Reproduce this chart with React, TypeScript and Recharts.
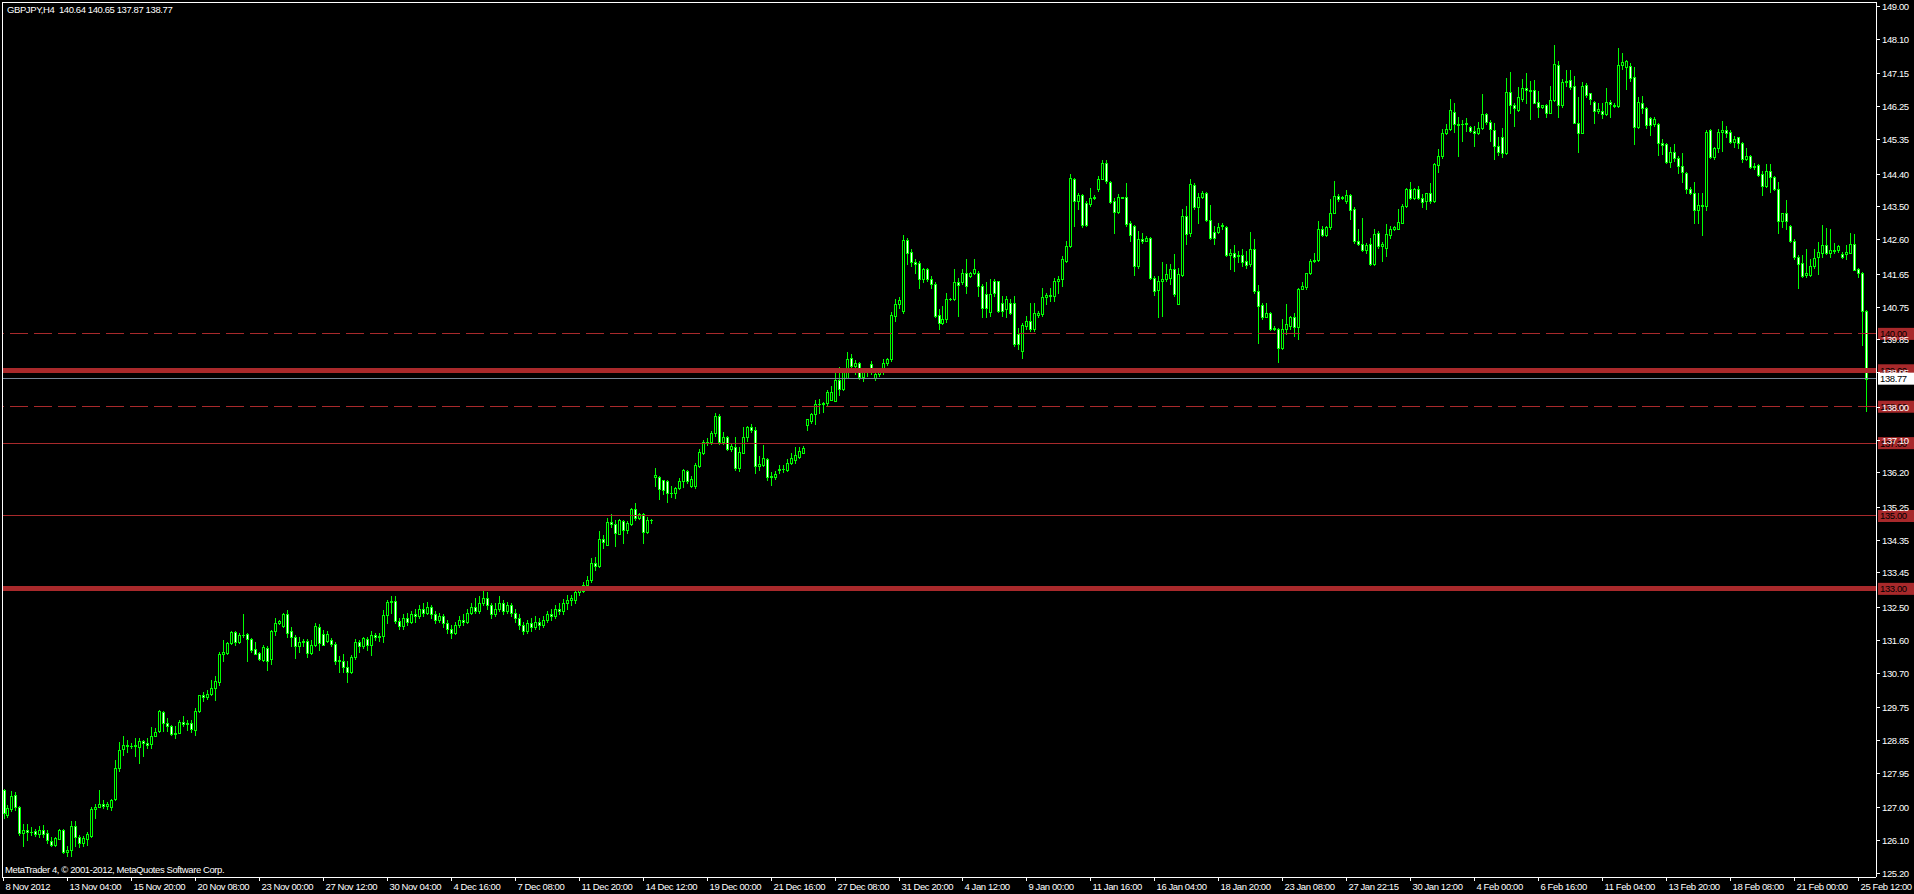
import React from 'react';
import { ComposedChart, Bar, XAxis, YAxis, ReferenceLine } from 'recharts';

type Ohlc = [number, number, number, number]; // open, high, low, close

const W = 1914;
const H = 894;
const LIME = '#00ff00';
const RED = '#a8292b';
const FONT = "'Liberation Sans', Arial, sans-serif";
const FS = 9.5;
const LS = -0.4;

// GBPJPY H4, one bar per 4 hours, split by month
const nov: Ohlc[] = [
  [127.48, 127.5, 126.7, 126.84], [126.8, 127.07, 126.75, 126.98], [126.97, 127.46, 126.89, 127.3], [127.33, 127.41, 126.92, 127.01],
  [127.01, 127.05, 126.25, 126.3], [126.3, 126.55, 125.93, 126.39], [126.39, 126.55, 126.11, 126.33], [126.33, 126.45, 126.25, 126.33],
  [126.36, 126.4, 126.22, 126.26], [126.26, 126.5, 126.2, 126.39], [126.39, 126.53, 126.2, 126.26], [126.3, 126.39, 126.02, 126.1],
  [126.07, 126.18, 125.93, 125.98], [125.98, 126.18, 125.95, 126.16], [126.13, 126.41, 126.13, 126.37], [126.37, 126.41, 125.76, 125.79],
  [125.79, 125.93, 125.67, 125.84], [125.82, 126.64, 125.67, 126.48], [126.48, 126.62, 125.95, 126.2], [126.2, 126.25, 125.91, 126.02],
  [126.02, 126.22, 125.93, 126.16], [126.13, 126.32, 125.97, 126.28], [126.22, 127.02, 126.2, 126.95], [126.95, 127.1, 126.7, 127.01],
  [127.01, 127.48, 127.0, 127.09], [127.09, 127.21, 126.98, 127.05], [127.05, 127.16, 126.95, 127.1], [127.01, 127.23, 126.92, 127.21],
  [127.23, 128.31, 127.21, 128.08], [128.08, 128.79, 128.0, 128.58], [128.6, 128.97, 128.45, 128.71], [128.71, 128.86, 128.51, 128.69],
  [128.69, 128.76, 128.63, 128.69], [128.69, 128.9, 128.4, 128.7], [128.67, 128.9, 128.23, 128.82], [128.82, 128.84, 128.4, 128.76],
  [128.76, 128.9, 128.63, 128.72], [128.75, 129.22, 128.63, 128.97], [128.97, 129.18, 128.95, 129.08], [129.1, 129.67, 129.08, 129.64],
  [129.61, 129.64, 129.09, 129.31], [129.31, 129.45, 129.09, 129.23], [129.23, 129.27, 128.99, 129.01], [129.01, 129.24, 128.9, 129.04],
  [129.04, 129.39, 129.04, 129.34], [129.34, 129.52, 129.24, 129.29], [129.29, 129.41, 129.13, 129.32], [129.32, 129.41, 129.06, 129.15],
  [129.12, 129.72, 129.0, 129.64], [129.64, 130.09, 129.62, 130.08], [130.08, 130.17, 129.91, 130.04], [130.04, 130.21, 129.97, 130.12],
  [130.11, 130.5, 130.09, 130.28], [130.27, 130.6, 129.96, 130.48], [130.44, 131.28, 130.37, 131.22], [131.22, 131.6, 131.03, 131.27],
  [131.24, 131.55, 131.21, 131.51], [131.51, 131.85, 131.49, 131.81], [131.81, 131.83, 131.46, 131.53], [131.53, 131.79, 131.51, 131.74],
  [131.74, 132.32, 131.69, 131.74], [131.77, 131.8, 131.03, 131.62], [131.62, 131.65, 131.28, 131.31], [131.35, 131.53, 131.22, 131.22],
  [131.24, 131.28, 131.05, 131.08], [131.05, 131.46, 131.01, 131.4], [131.37, 131.42, 130.76, 131.03], [131.07, 131.88, 130.94, 131.85],
  [131.83, 132.2, 131.74, 132.06], [132.06, 132.15, 132.04, 132.11], [131.97, 132.33, 131.95, 132.32], [132.32, 132.43, 131.69, 131.8],
  [131.83, 131.95, 131.42, 131.68], [131.69, 131.74, 131.09, 131.42], [131.42, 131.69, 131.28, 131.53], [131.53, 131.62, 131.42, 131.58],
  [131.58, 131.62, 131.14, 131.24], [131.24, 131.6, 131.22, 131.46], [131.46, 132.06, 131.42, 131.97], [131.95, 132.04, 131.33, 131.51],
  [131.77, 131.86, 131.45, 131.47], [131.58, 131.85, 131.53, 131.76], [131.6, 131.65, 131.42, 131.49], [131.48, 131.53, 130.94, 131.01],
  [131.05, 131.16, 130.71, 131.03], [131.01, 131.22, 130.71, 130.85], [130.85, 131.01, 130.43, 130.71], [130.71, 131.19, 130.69, 131.14],
  [131.14, 131.62, 131.07, 131.54], [131.54, 131.6, 131.28, 131.42], [131.42, 131.67, 131.37, 131.65], [131.62, 131.67, 131.33, 131.46],
  [131.45, 131.83, 131.19, 131.74], [131.74, 131.8, 131.6, 131.68], [131.68, 131.78, 131.58, 131.71], [131.71, 132.43, 131.53, 132.29],
  [132.29, 132.7, 132.06, 132.65], [132.65, 132.8, 132.33, 132.66], [132.66, 132.8, 132.05, 132.13], [132.13, 132.2, 131.9, 131.97],
  [131.97, 132.3, 131.9, 132.2], [132.2, 132.35, 132.0, 132.1], [132.1, 132.4, 132.05, 132.3], [132.3, 132.45, 132.1, 132.25],
  [132.25, 132.55, 132.2, 132.45], [132.45, 132.6, 132.25, 132.35], [132.35, 132.65, 132.3, 132.5], [132.5, 132.55, 132.2, 132.3],
  [132.3, 132.4, 132.05, 132.15], [132.15, 132.35, 132.1, 132.25], [132.25, 132.3, 131.95, 132.05], [132.05, 132.15, 131.8, 131.9],
  [131.9, 132.0, 131.65, 131.8], [131.8, 132.1, 131.75, 132.0], [132.0, 132.25, 131.95, 132.15], [132.15, 132.3, 132.0, 132.1],
  [132.1, 132.45, 132.05, 132.35],
];

const dec: Ohlc[] = [
  [132.35, 132.6, 132.3, 132.5], [132.5, 132.75, 132.35, 132.4], [132.4, 132.8, 132.35, 132.6], [132.6, 132.95, 132.55, 132.75],
  [132.75, 132.9, 132.45, 132.55], [132.55, 132.6, 132.2, 132.3], [132.3, 132.6, 132.25, 132.45], [132.45, 132.8, 132.4, 132.6],
  [132.6, 132.7, 132.3, 132.4], [132.4, 132.65, 132.35, 132.55], [132.55, 132.6, 132.25, 132.35], [132.35, 132.45, 132.1, 132.2],
  [132.2, 132.3, 131.9, 132.0], [132.0, 132.1, 131.75, 131.85], [131.85, 132.15, 131.8, 132.05], [132.05, 132.2, 131.85, 131.95],
  [131.95, 132.25, 131.9, 132.1], [132.1, 132.2, 131.9, 132.0], [132.0, 132.25, 131.95, 132.15], [132.15, 132.4, 132.1, 132.3],
  [132.3, 132.45, 132.15, 132.25], [132.25, 132.55, 132.2, 132.45], [132.45, 132.6, 132.3, 132.4], [132.4, 132.71, 132.3, 132.6],
  [132.6, 132.83, 132.45, 132.7], [132.7, 132.83, 132.55, 132.75], [132.7, 133.04, 132.6, 132.9], [132.9, 133.08, 132.83, 133.0],
  [132.95, 133.18, 132.92, 133.11], [133.11, 133.34, 133.04, 133.24], [133.23, 133.84, 133.2, 133.7], [133.7, 133.88, 133.52, 133.62],
  [133.63, 134.59, 133.61, 134.36], [134.36, 134.48, 134.12, 134.28], [134.21, 134.94, 134.2, 134.83], [134.83, 135.05, 134.71, 134.77],
  [134.77, 134.89, 134.18, 134.53], [134.5, 134.91, 134.5, 134.89], [134.86, 134.89, 134.25, 134.62], [134.62, 134.86, 134.53, 134.8],
  [134.78, 135.23, 134.75, 135.18], [135.18, 135.35, 134.89, 134.94], [134.94, 135.08, 134.91, 135.05], [135.05, 135.08, 134.25, 134.55],
  [134.55, 134.96, 134.53, 134.89], [134.89, 134.93, 134.8, 134.9], [136.08, 136.31, 135.81, 136.13], [136.06, 136.1, 135.48, 135.73],
  [135.99, 136.0, 135.6, 135.71], [135.97, 135.99, 135.39, 135.64], [135.64, 135.83, 135.53, 135.64], [135.62, 135.8, 135.5, 135.76],
  [135.76, 136.03, 135.73, 135.96], [135.97, 136.3, 135.8, 136.26], [136.23, 136.26, 135.9, 135.97], [135.81, 136.1, 135.79, 136.01],
  [135.81, 136.46, 135.78, 136.4], [136.37, 136.85, 136.35, 136.77], [136.72, 137.1, 136.7, 137.04], [137.04, 137.15, 136.95, 137.04],
  [137.04, 137.33, 136.99, 137.27], [137.27, 137.82, 137.2, 137.75], [137.75, 137.8, 136.97, 137.04], [137.04, 137.3, 136.98, 137.16],
  [137.16, 137.2, 136.8, 136.83], [136.83, 136.99, 136.78, 136.93], [136.9, 137.18, 136.26, 136.31], [136.31, 136.89, 136.24, 136.77],
  [136.74, 137.44, 136.72, 137.16], [137.18, 137.47, 137.06, 137.43], [137.43, 137.52, 137.3, 137.36], [137.36, 137.43, 136.19, 136.36],
  [136.36, 136.65, 136.25, 136.42], [136.4, 136.95, 136.36, 136.58], [136.56, 136.6, 135.99, 136.06], [136.06, 136.2, 135.84, 136.09],
  [136.06, 136.23, 136.01, 136.15], [136.25, 136.41, 136.19, 136.28], [136.28, 136.41, 136.21, 136.28], [136.26, 136.56, 136.23, 136.45],
  [136.45, 136.73, 136.42, 136.58], [136.55, 136.9, 136.45, 136.68], [136.63, 136.9, 136.6, 136.79], [136.74, 136.93, 136.73, 136.86],
  [137.5, 137.66, 137.36, 137.65], [137.62, 137.84, 137.55, 137.8], [137.79, 138.19, 137.53, 138.08], [138.08, 138.21, 137.82, 138.08],
  [138.08, 138.13, 137.85, 138.11], [138.09, 138.46, 138.02, 138.4], [138.18, 138.56, 138.18, 138.4], [138.17, 139.01, 138.17, 138.73],
  [138.73, 139.1, 138.33, 138.5], [138.5, 139.05, 138.45, 138.95], [138.8, 139.5, 138.78, 139.3], [139.35, 139.44, 139.05, 139.12],
  [139.12, 139.28, 138.9, 139.2], [139.2, 139.24, 138.75, 138.82], [138.82, 139.05, 138.7, 139.0], [139.0, 139.05, 138.85, 138.95],
  [139.17, 139.26, 138.9, 138.96], [138.79, 139.0, 138.72, 138.91], [138.91, 139.05, 138.85, 138.96], [138.95, 139.3, 138.9, 139.21],
  [139.21, 139.35, 139.15, 139.3], [139.3, 140.6, 139.25, 140.51], [140.49, 140.95, 140.36, 140.81], [140.81, 141.0, 140.72, 140.93],
];

const jan: Ohlc[] = [
  [140.63, 142.71, 140.58, 142.58], [142.58, 142.64, 141.91, 142.23], [142.25, 142.32, 141.86, 141.96], [141.96, 142.05, 141.68, 141.91],
  [141.94, 142.0, 141.27, 141.5], [141.5, 141.82, 141.41, 141.79], [141.77, 141.8, 141.45, 141.5], [141.5, 141.59, 141.27, 141.36],
  [141.36, 141.41, 140.47, 140.49], [140.51, 140.67, 140.13, 140.31], [140.31, 140.77, 140.26, 140.4], [140.4, 141.13, 140.33, 140.97],
  [140.97, 140.99, 140.93, 140.95], [140.95, 141.77, 140.93, 141.41], [141.41, 141.54, 140.49, 141.33], [141.41, 141.79, 141.36, 141.68],
  [141.68, 142.05, 141.13, 141.32], [141.59, 141.7, 141.55, 141.66], [141.68, 142.05, 141.64, 141.77], [141.68, 141.73, 141.04, 141.32],
  [141.32, 141.36, 140.45, 140.72], [141.09, 141.41, 140.45, 140.72], [140.6, 141.5, 140.49, 141.09], [141.45, 141.5, 141.04, 141.13],
  [141.45, 141.45, 140.6, 140.63], [140.86, 141.04, 140.49, 140.63], [140.68, 141.04, 140.45, 140.95], [140.86, 140.95, 140.55, 140.58],
  [140.86, 141.04, 139.67, 139.71], [139.99, 140.17, 139.58, 139.71], [139.53, 140.31, 139.35, 140.24], [140.22, 140.49, 140.13, 140.35],
  [140.35, 140.86, 140.08, 140.13], [140.13, 140.86, 140.08, 140.58], [140.51, 140.62, 140.45, 140.58], [140.54, 141.27, 140.49, 141.0],
  [141.0, 141.13, 140.81, 141.07], [141.07, 141.27, 140.9, 141.04], [141.04, 141.52, 140.9, 141.45], [141.45, 141.59, 141.13, 141.5],
  [141.5, 142.14, 141.32, 142.05], [142.0, 142.55, 141.96, 142.41], [142.41, 144.38, 142.39, 144.29], [144.24, 144.29, 142.96, 143.65],
  [143.65, 143.88, 143.42, 143.8], [143.8, 143.83, 142.94, 142.98], [143.58, 143.65, 142.96, 142.98], [143.56, 144.01, 143.51, 143.74],
  [143.74, 143.8, 143.71, 143.77], [143.99, 144.33, 143.92, 144.26], [144.26, 144.76, 144.24, 144.7], [144.7, 144.76, 144.15, 144.2],
  [144.17, 144.2, 143.58, 143.62], [143.65, 143.74, 142.78, 143.35], [143.35, 143.83, 143.33, 143.77], [143.77, 143.77, 143.74, 143.74],
  [143.77, 144.15, 142.96, 143.01], [143.03, 143.1, 142.55, 142.71], [142.96, 142.98, 141.61, 141.85], [141.85, 142.83, 141.82, 142.6],
  [142.6, 142.78, 142.5, 142.55], [142.55, 142.69, 142.55, 142.64], [142.64, 142.67, 141.5, 141.54], [141.54, 141.59, 141.06, 141.18],
  [141.21, 141.59, 140.45, 141.45], [141.45, 141.96, 140.49, 141.5], [141.5, 141.91, 141.45, 141.64], [141.54, 141.91, 141.36, 141.79],
  [141.79, 142.18, 141.04, 141.09], [140.81, 141.82, 140.81, 141.64], [141.61, 143.44, 141.59, 143.24], [143.24, 143.51, 142.46, 142.73],
  [142.76, 144.24, 142.69, 144.11], [144.08, 144.15, 143.42, 143.47], [143.47, 143.88, 143.05, 143.77], [143.77, 143.92, 143.74, 143.88],
  [143.88, 143.9, 143.1, 143.13], [143.13, 143.53, 142.61, 142.64], [142.8, 142.96, 142.46, 142.64], [142.8, 143.05, 142.76, 142.92],
  [142.96, 143.05, 142.87, 142.98], [142.94, 142.96, 142.14, 142.16], [142.16, 142.32, 141.77, 142.23], [142.23, 142.43, 141.73, 142.12],
  [142.14, 142.28, 141.96, 142.16], [142.16, 142.32, 141.85, 141.97], [142.0, 142.28, 141.82, 141.88], [141.91, 142.8, 141.85, 142.34],
  [142.34, 142.61, 141.13, 141.18], [141.18, 141.33, 139.76, 140.77], [140.79, 140.84, 140.4, 140.45], [140.47, 140.84, 140.45, 140.57],
  [140.57, 140.6, 140.11, 140.14], [140.14, 140.22, 140.11, 140.17], [140.14, 140.17, 139.23, 139.62], [139.62, 140.4, 139.58, 140.13],
  [140.13, 140.81, 139.99, 140.26], [140.22, 140.49, 140.13, 140.45], [140.45, 140.58, 139.94, 140.2], [140.2, 141.27, 139.85, 141.24],
  [141.24, 141.42, 141.22, 141.32], [141.3, 141.68, 141.22, 141.68], [141.66, 142.05, 141.64, 142.0], [142.0, 142.23, 141.97, 142.03],
  [142.03, 143.1, 142.0, 142.87], [142.87, 142.96, 142.69, 142.71], [142.71, 142.96, 142.69, 142.92], [142.92, 143.69, 142.89, 143.33],
  [143.33, 144.2, 143.31, 143.79], [143.79, 143.84, 143.65, 143.71], [143.74, 143.79, 143.69, 143.77], [143.65, 143.95, 143.6, 143.8],
  [143.8, 143.83, 143.15, 143.4], [143.42, 143.47, 142.5, 142.55], [142.55, 142.89, 142.43, 142.46], [142.46, 143.19, 142.28, 142.3],
  [142.3, 142.5, 142.23, 142.43], [142.46, 142.64, 141.88, 141.91], [141.91, 142.87, 141.88, 142.73], [142.76, 142.83, 142.37, 142.41],
  [142.41, 142.52, 142.0, 142.46], [142.37, 143.01, 142.14, 142.73], [142.71, 142.96, 142.64, 142.89], [142.89, 142.96, 142.85, 142.92],
  [142.89, 143.42, 142.87, 143.07], [143.05, 143.56, 143.05, 143.51], [143.51, 144.01, 143.49, 143.97], [143.97, 144.17, 143.69, 143.74],
  [143.74, 144.01, 143.69, 143.99], [143.99, 144.06, 143.69, 143.74], [143.74, 143.83, 143.47, 143.62], [143.65, 143.88, 143.42, 143.86],
  [143.86, 144.15, 143.6, 143.65], [143.65, 144.7, 143.62, 144.65], [144.63, 145.08, 144.43, 144.88], [144.88, 145.62, 144.84, 145.51],
];

const feb: Ohlc[] = [
  [145.51, 145.75, 145.48, 145.62], [145.62, 146.46, 145.6, 146.14], [146.09, 146.35, 145.54, 145.75], [145.75, 145.96, 144.87, 145.73],
  [145.75, 145.87, 145.3, 145.75], [145.75, 145.93, 145.57, 145.78], [145.69, 145.71, 145.54, 145.57], [145.57, 145.71, 145.16, 145.51],
  [145.52, 145.82, 145.48, 145.66], [145.66, 146.58, 145.63, 146.03], [146.03, 146.05, 145.75, 145.82], [145.82, 145.87, 145.3, 145.62],
  [145.6, 145.8, 144.81, 145.16], [145.16, 145.4, 144.9, 145.0], [145.41, 145.64, 144.86, 144.97], [144.97, 147.02, 144.95, 146.65],
  [146.65, 147.2, 146.05, 146.28], [146.28, 146.34, 145.71, 146.19], [146.15, 146.77, 146.13, 146.51], [146.44, 146.99, 146.4, 146.74],
  [146.74, 147.17, 146.33, 146.7], [146.7, 146.95, 145.89, 146.68], [146.7, 146.97, 146.33, 146.35], [146.37, 146.68, 145.96, 146.22],
  [146.22, 146.28, 146.2, 146.27], [146.27, 146.31, 145.94, 146.07], [146.07, 146.8, 146.05, 146.42], [146.42, 147.93, 146.4, 147.41],
  [147.37, 147.49, 145.94, 146.28], [146.28, 146.99, 146.24, 146.91], [146.91, 147.24, 146.8, 146.95], [146.97, 147.24, 146.71, 146.79],
  [146.8, 147.08, 145.78, 145.8], [145.8, 146.49, 145.0, 145.52], [145.52, 146.92, 145.51, 146.8], [146.82, 146.88, 146.51, 146.56],
  [146.6, 146.62, 146.31, 146.44], [146.36, 146.38, 145.8, 146.13], [146.13, 146.33, 146.07, 146.17], [146.12, 146.33, 145.92, 146.04],
  [146.04, 146.74, 146.01, 146.37], [146.37, 146.42, 145.94, 146.31], [146.28, 146.33, 146.22, 146.26], [146.26, 147.84, 146.24, 147.38],
  [147.38, 147.7, 147.26, 147.45], [147.33, 147.52, 146.71, 147.48], [147.35, 147.43, 146.95, 147.02], [147.05, 147.33, 145.21, 145.69],
  [145.69, 146.49, 145.64, 146.37], [146.33, 146.53, 146.07, 146.19], [146.19, 146.22, 145.66, 145.73], [145.92, 145.94, 145.46, 145.73],
  [145.76, 145.94, 145.71, 145.89], [145.76, 145.78, 144.91, 145.23], [145.23, 145.34, 144.94, 145.19], [145.21, 145.23, 144.68, 144.73],
  [144.73, 145.14, 144.59, 144.98], [144.98, 145.21, 144.75, 144.82], [144.82, 144.88, 144.41, 144.61], [144.61, 144.97, 144.18, 144.43],
  [144.41, 144.43, 143.88, 143.97], [143.97, 144.04, 143.84, 143.86], [143.86, 144.18, 143.05, 143.4], [143.4, 143.86, 143.05, 143.55],
  [143.55, 143.86, 142.71, 143.51], [143.51, 145.6, 143.4, 145.55], [145.6, 145.62, 144.82, 144.86], [144.86, 145.14, 144.79, 145.09],
  [145.09, 145.62, 145.0, 145.53], [145.53, 145.83, 145.03, 145.6], [145.6, 145.71, 145.4, 145.52], [145.53, 145.6, 145.25, 145.28],
  [145.28, 145.43, 145.14, 145.35], [145.4, 145.41, 145.09, 145.25], [145.25, 145.28, 144.73, 144.79], [144.79, 145.09, 144.77, 144.88],
  [144.88, 144.91, 144.55, 144.57], [144.57, 144.68, 144.52, 144.61], [144.64, 144.66, 144.32, 144.36], [144.39, 144.48, 143.81, 144.06],
  [144.06, 144.66, 144.04, 144.48], [144.48, 144.66, 143.9, 144.3], [144.3, 144.32, 143.95, 143.97], [143.97, 144.18, 142.76, 143.11],
  [143.11, 143.33, 142.94, 143.31], [143.31, 143.68, 142.87, 143.11], [142.96, 142.99, 142.53, 142.56], [142.56, 142.6, 142.05, 142.1],
  [142.1, 142.17, 141.25, 141.92], [141.94, 142.17, 141.55, 141.59], [141.62, 142.32, 141.55, 141.68], [141.62, 142.05, 141.59, 141.86],
  [141.85, 142.32, 141.8, 142.07], [142.1, 142.53, 141.64, 142.26], [142.23, 142.99, 142.12, 142.44], [142.44, 142.9, 142.19, 142.23],
  [142.23, 142.87, 142.1, 142.3], [142.3, 142.49, 142.23, 142.28], [142.3, 142.44, 142.26, 142.42], [142.19, 142.26, 142.07, 142.1],
  [142.19, 142.44, 142.05, 142.26], [142.23, 142.76, 142.21, 142.47], [142.47, 142.74, 141.74, 141.75], [141.77, 141.8, 141.55, 141.66],
  [141.66, 141.71, 139.7, 140.64], [140.64, 140.65, 137.87, 138.77],
];

// one label every 16 bars, starting with the first bar
const timeLabels = [
  '8 Nov 2012', '13 Nov 04:00', '15 Nov 20:00', '20 Nov 08:00', '23 Nov 00:00', '27 Nov 12:00', '30 Nov 04:00', '4 Dec 16:00',
  '7 Dec 08:00', '11 Dec 20:00', '14 Dec 12:00', '19 Dec 00:00', '21 Dec 16:00', '27 Dec 08:00', '31 Dec 20:00', '4 Jan 12:00',
  '9 Jan 00:00', '11 Jan 16:00', '16 Jan 04:00', '18 Jan 20:00', '23 Jan 08:00', '27 Jan 22:15', '30 Jan 12:00', '4 Feb 00:00',
  '6 Feb 16:00', '11 Feb 04:00', '13 Feb 20:00', '18 Feb 08:00', '21 Feb 00:00', '25 Feb 12:00',
];

const priceTicks = [
  149.0, 148.1, 147.15, 146.25, 145.35, 144.4, 143.5, 142.6, 141.65, 140.75, 139.85, 138.95, 138.0, 137.1,
  136.2, 135.25, 134.35, 133.45, 132.5, 131.6, 130.7, 129.75, 128.85, 127.95, 127.0, 126.1, 125.2,
];

// horizontal levels drawn on the chart
const levels = [
  { price: 140.0, width: 1, dash: '18 6' },
  { price: 139.0, width: 5, dash: undefined },
  { price: 138.0, width: 1, dash: '18 6' },
  { price: 137.0, width: 1, dash: undefined },
  { price: 135.0, width: 1, dash: undefined },
  { price: 133.0, width: 5, dash: undefined },
];
const lastPrice = 138.77;
const header = 'GBPJPY,H4  140.64 140.65 137.87 138.77';

const bars = [...nov, ...dec, ...jan, ...feb];
const rows: any[] = bars.map(([o, h, l, c], i) => ({ i, o, h, l, c, range: [l, h] }));
rows.push({ i: bars.length, range: null }, { i: bars.length + 1, range: null });

const Candle = (props: any) => {
  const { x, y, width, height, payload } = props;
  if (!payload || !payload.range) return null;
  const { o, h, l, c } = payload;
  const span = h - l || 1;
  const py = (v: number) => y + ((h - v) / span) * height;
  const cx = Math.floor(x + width / 2) + 0.5;
  const top = Math.round(py(Math.max(o, c)));
  const bot = Math.round(py(Math.min(o, c)));
  const up = c >= o;
  return (
    <g shapeRendering="crispEdges">
      <line x1={cx} x2={cx} y1={Math.round(y)} y2={Math.round(y + height) + 1} stroke={LIME} />
      {bot - top >= 1 ? (
        <rect x={cx - 1} y={top + 0.5} width={2} height={bot - top} fill={up ? '#000' : '#fff'} stroke={LIME} />
      ) : (
        <line x1={cx - 1.5} x2={cx + 1.5} y1={top + 0.5} y2={top + 0.5} stroke={LIME} />
      )}
    </g>
  );
};

const TimeTick = (props: any) => {
  const { x, y, payload } = props;
  const idx = Number(payload.value);
  if (idx % 16 !== 0) return null;
  const label = timeLabels[idx / 16];
  if (!label) return null;
  const tx = Math.floor(x) + 0.5;
  return (
    <g>
      <line x1={tx} x2={tx} y1={y} y2={y + 4} stroke="#fff" shapeRendering="crispEdges" />
      <text x={tx + 2} y={y + 13} fill="#fff" fontSize={FS} fontFamily={FONT} letterSpacing={LS}>{label}</text>
    </g>
  );
};

const PriceTick = (props: any) => {
  const { x, y, payload } = props;
  const ty = Math.round(y) + 0.5;
  return (
    <g>
      <line x1={x} x2={x + 4} y1={ty} y2={ty} stroke="#fff" shapeRendering="crispEdges" />
      <text x={x + 6} y={ty + 3.5} fill="#fff" fontSize={FS} fontFamily={FONT} letterSpacing={LS}>
        {Number(payload.value).toFixed(2)}
      </text>
    </g>
  );
};

const priceBox = (price: number, bg: string) => (p: any) => {
  const vb = p.viewBox || {};
  const bx = vb.x + vb.width + 2;
  return (
    <g>
      <rect x={bx} y={vb.y - 6} width={36} height={12} fill={bg} />
      <text x={bx + 2} y={vb.y + 3.5} fill="#000" fontSize={FS} fontFamily={FONT} letterSpacing={LS}>
        {price.toFixed(2)}
      </text>
    </g>
  );
};

export default function App() {
  return (
    <div style={{ position: 'absolute', left: 0, top: 0, width: W, height: H, background: '#000', overflow: 'hidden' }}>
      <ComposedChart width={W} height={H} data={rows} margin={{ top: 2, right: 0, bottom: 0, left: 2 }} barCategoryGap={0}>
        <XAxis
          dataKey="i"
          type="category"
          interval={15}
          height={17}
          tickLine={false}
          tickSize={0}
          tickMargin={0}
          axisLine={{ stroke: '#fff', shapeRendering: 'crispEdges' }}
          tick={<TimeTick />}
        />
        <YAxis
          orientation="right"
          type="number"
          width={38}
          domain={[125.09, 149.11]}
          ticks={priceTicks}
          interval={0}
          allowDataOverflow
          tickLine={false}
          tickSize={0}
          tickMargin={0}
          axisLine={{ stroke: '#fff', shapeRendering: 'crispEdges' }}
          tick={<PriceTick />}
        />
        {levels.map((lv) => (
          <ReferenceLine
            key={lv.price}
            y={lv.price}
            stroke={RED}
            strokeWidth={lv.width}
            strokeDasharray={lv.dash}
            shapeRendering="crispEdges"
            label={priceBox(lv.price, RED)}
          />
        ))}
        <ReferenceLine y={lastPrice} stroke="#778899" strokeWidth={1} shapeRendering="crispEdges" label={priceBox(lastPrice, '#fff')} />
        <Bar dataKey="range" shape={(p: any) => <Candle {...p} />} isAnimationActive={false} />
      </ComposedChart>
      <div
        style={{
          position: 'absolute', left: 2, top: 2, width: 1874, height: 875,
          borderLeft: '1px solid #fff', borderTop: '1px solid #fff', pointerEvents: 'none', boxSizing: 'border-box',
        }}
      />
      <div style={{ position: 'absolute', left: 7, top: 4, color: '#fff', fontFamily: FONT, fontSize: FS, letterSpacing: LS, whiteSpace: 'pre' }}>
        {header}
      </div>
      <div style={{ position: 'absolute', left: 5, top: 864, color: '#fff', fontFamily: FONT, fontSize: FS, letterSpacing: LS, whiteSpace: 'pre' }}>
        MetaTrader 4, © 2001-2012, MetaQuotes Software Corp.
      </div>
    </div>
  );
}
